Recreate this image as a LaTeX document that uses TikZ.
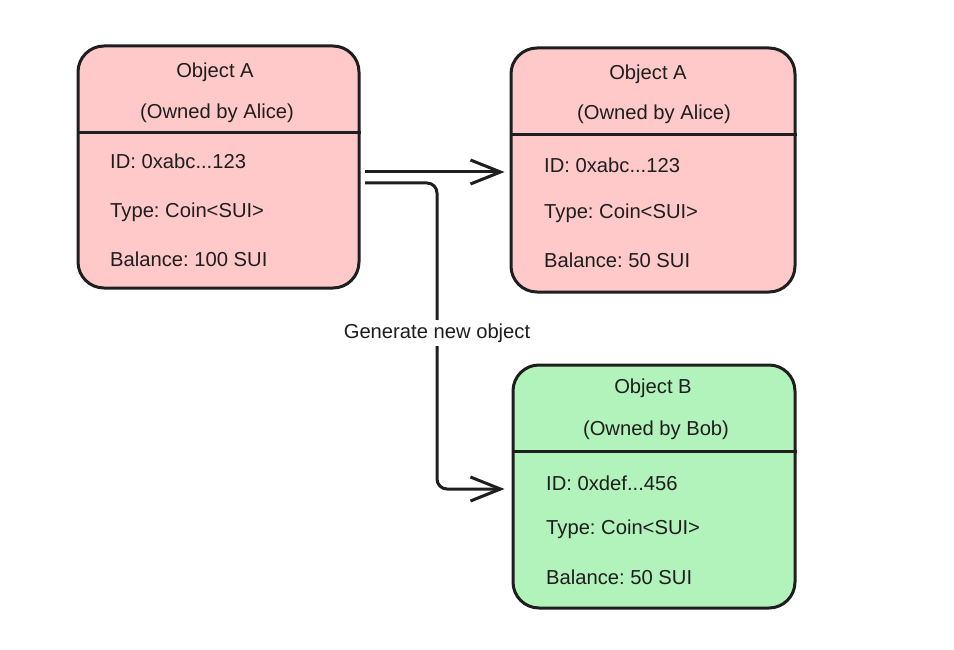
\documentclass[tikz,border=0pt]{standalone}
\usepackage{fontspec}
\setmainfont{Liberation Sans}
\usetikzlibrary{arrows.meta}
\definecolor{pinkfill}{HTML}{FFC9C9}
\definecolor{greenfill}{HTML}{B2F2BB}
\definecolor{ink}{HTML}{1E1E1E}
\frenchspacing
\begin{document}
\begin{tikzpicture}[x=1pt,y=-1pt,
  objbox/.style={draw=ink,line width=3pt,rounded corners=26pt,inner sep=0pt},
  txt/.style={font=\fontsize{20.2}{24}\selectfont\frenchspacing,text=ink,inner sep=0pt},
  field/.style={txt,anchor=west},
  divider/.style={draw=ink,line width=3pt},
  conn/.style={draw=ink,line width=3pt,rounded corners=10pt,
    -{Straight Barb[length=30pt,width=24pt,line width=3pt]}}]
\useasboundingbox (0,0) rectangle (954,650);
% boxes
\node[objbox,fill=pinkfill,minimum width=281pt,minimum height=242pt] (a) at (218.5,167) {};
\node[objbox,fill=pinkfill,minimum width=284pt,minimum height=244pt] (a2) at (653,170) {};
\node[objbox,fill=greenfill,minimum width=282pt,minimum height=243pt] (b) at (654,486.5) {};
% dividers
\draw[divider] (a.west |- 0,133) -- (a.east |- 0,133);
\draw[divider] (a2.west |- 0,135) -- (a2.east |- 0,135);
\draw[divider] (b.west |- 0,451) -- (b.east |- 0,451);
% box A texts
\node[txt] (at1) at (215,72) {Object A};
\node[txt] (at2) at (217,113) {(Owned by Alice)};
\node[field] (af1) at (110,161) {ID: 0xabc...123};
\node[field] (af2) at (110,212) {Type: Coin<SUI>};
\node[field] (af3) at (110,259) {Balance: 100 SUI};
% box A2 texts
\node[txt] (bt1) at (648,74) {Object A};
\node[txt] (bt2) at (654,114) {(Owned by Alice)};
\node[field] (bf1) at (544,165) {ID: 0xabc...123};
\node[field] (bf2) at (544,213) {Type: Coin<SUI>};
\node[field] (bf3) at (544,260) {Balance: 50 SUI};
% box B texts
\node[txt] (ct1) at (653,388) {Object B};
\node[txt] (ct2) at (656,430) {(Owned by Bob)};
\node[field] (cf1) at (546,483) {ID: 0xdef...456};
\node[field] (cf2) at (546,529) {Type: Coin<SUI>};
\node[field] (cf3) at (546,577) {Balance: 50 SUI};
% connectors
\coordinate (s1) at (365,172);
\coordinate (s2) at (365,183);
\path (a2.west |- s1) ++(-5,0) coordinate (e1);
\path (b.west |- 0,489) ++(-7,0) coordinate (e2);
\draw[conn] (s1) -- (e1);
\draw[conn] (s2) -- (437,183) -- (437,489) -- (e2);
\node[txt,fill=white,inner xsep=2pt,inner ysep=4pt] (lbl) at (437,333) {Generate new object};
\end{tikzpicture}
\end{document}
